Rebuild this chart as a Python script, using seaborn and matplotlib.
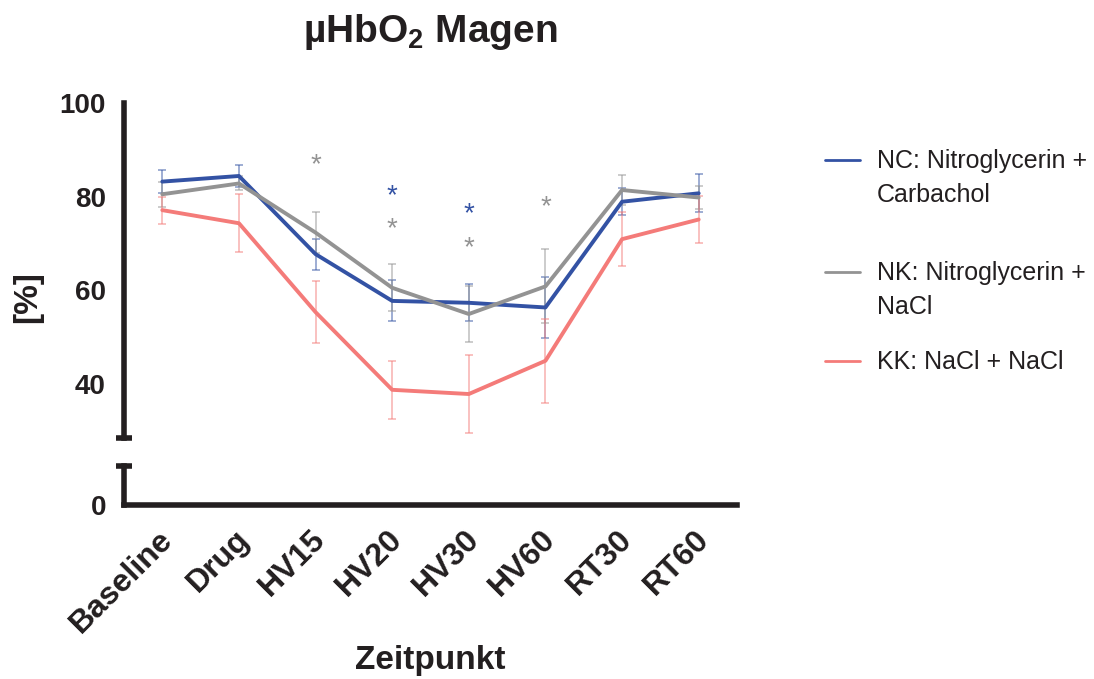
import numpy as np
import pandas as pd
import matplotlib
matplotlib.use("Agg")
import matplotlib.pyplot as plt
import seaborn as sns
from matplotlib.lines import Line2D
from matplotlib.transforms import offset_copy, ScaledTranslation

timepoints = ["Baseline", "Drug", "HV15", "HV20", "HV30", "HV60", "RT30", "RT60"]
groups = ["NC: Nitroglycerin +\nCarbachol", "NK: Nitroglycerin +\nNaCl", "KK: NaCl + NaCl"]

nc_mean = [83.2, 84.4, 67.7, 57.7, 57.3, 56.3, 78.9, 80.7]
nc_err = [2.5, 2.3, 3.3, 4.4, 4.0, 6.6, 2.9, 4.1]
nk_mean = [80.5, 82.8, 72.3, 60.5, 54.9, 60.8, 81.4, 79.8]
nk_err = [2.7, 1.5, 4.4, 5.0, 6.0, 7.9, 3.2, 2.5]
kk_mean = [77.1, 74.3, 55.3, 38.7, 37.8, 44.9, 70.9, 75.1]
kk_err = [2.9, 6.2, 6.6, 6.2, 8.3, 9.0, 5.7, 5.0]

# significance asterisks: (timepoint, y value, group index)
star_time = ["HV15", "HV20", "HV20", "HV30", "HV30", "HV60"]
star_y = [87.5, 81.0, 73.9, 77.1, 69.8, 78.6]
star_group = [1, 0, 1, 0, 1, 1]

colors = ["#3352A4", "#939393", "#F47B79"]
ink = "#231F20"

sns.set_theme(style="white")
plt.rcParams["font.family"] = ["Liberation Sans", "DejaVu Sans"]
plt.rcParams["mathtext.fontset"] = "custom"
plt.rcParams["mathtext.rm"] = "Liberation Sans"
plt.rcParams["mathtext.bf"] = "Liberation Sans:bold"

means = [nc_mean, nk_mean, kk_mean]
errs = [nc_err, nk_err, kk_err]
rows = []
for g, m, e in zip(groups, means, errs):
    for i, t in enumerate(timepoints):
        rows.append({"group": g, "pos": i, "time": t, "value": m[i], "err": e[i]})
df = pd.DataFrame(rows)

W, H = 1094, 679
fig = plt.figure(figsize=(W / 100, H / 100), dpi=100)

left_px, right_px = 124, 737
ax = fig.add_axes([left_px / W, 1 - 438 / H, (right_px - left_px) / W, (438 - 103) / H])
ax2 = fig.add_axes([left_px / W, 1 - 505 / H, (right_px - left_px) / W, (505 - 466) / H])

lw_sp = 4.0
for a in (ax, ax2):
    a.set_xlim(-0.5, 7.5)
    for s in ["top", "right"]:
        a.spines[s].set_visible(False)
    for s in ["left", "bottom"]:
        a.spines[s].set_linewidth(lw_sp)
        a.spines[s].set_color(ink)
    a.tick_params(axis="both", length=8, width=lw_sp, color=ink, direction="out",
                  labelsize=20)
    a.tick_params(axis="y", pad=5)
    a.set_facecolor("none")

ax.spines["bottom"].set_visible(False)
ax.tick_params(axis="x", bottom=False, labelbottom=False)
ax.set_ylim(28.4, 100)
ax.set_yticks([40, 60, 80, 100])

ax2.set_ylim(0, 8.3)
ax2.set_yticks([0])
ax2.set_xticks(range(len(timepoints)))
ax2.set_xticklabels(timepoints, rotation=45, ha="right", rotation_mode="anchor")
ax2.tick_params(axis="x", labelsize=23, pad=6)
for lab in ax2.get_xticklabels():
    lab.set_transform(lab.get_transform() + ScaledTranslation(-5 / 100, 0, fig.dpi_scale_trans))

for a in (ax, ax2):
    for lab in a.get_yticklabels() + a.get_xticklabels():
        lab.set_fontweight("bold")
        lab.set_color(ink)

# break caps
ax.plot([0], [0], transform=ax.transAxes, marker="_", markersize=12, mew=lw_sp,
        color=ink, clip_on=False)
ax2.plot([0], [1], transform=ax2.transAxes, marker="_", markersize=12, mew=lw_sp,
         color=ink, clip_on=False)

# error bars
for gi, g in enumerate(groups):
    sub = df[df["group"] == g]
    ax.errorbar(sub["pos"], sub["value"], yerr=sub["err"], fmt="none",
                ecolor=colors[gi], alpha=0.6, elinewidth=1.1, capsize=3, capthick=1.1,
                zorder=2)

sns.lineplot(data=df, x="pos", y="value", hue="group", palette=colors, ax=ax,
             legend=False, linewidth=2.8, zorder=3, errorbar=None, sort=False)
ax.set_xlabel("")
ax.set_ylabel("")
ax.set_xlim(-0.5, 7.5)

star_tr = offset_copy(ax.transData, fig=fig, x=0, y=-4, units="dots")
for t, y, gi in zip(star_time, star_y, star_group):
    ax.text(timepoints.index(t), y, "*", color=colors[gi], fontsize=20,
            ha="center", va="center", transform=star_tr)

# title, labels
fig.text((left_px + right_px) / 2 / W, 1 - 32 / H, r"µHbO$_\mathbf{2}$ Magen", fontsize=28,
         fontweight="bold", ha="center", va="center", color=ink)
fig.text(28 / W, 1 - 297 / H, "[%]", rotation=90, fontsize=24, fontweight="bold",
         ha="center", va="center", color=ink)
fig.text((left_px + right_px) / 2 / W, 1 - 661 / H, "Zeitpunkt", fontsize=24,
         fontweight="bold", ha="center", va="center", color=ink)

# legend
leg_y = [160, 272, 361]
for gi, g in enumerate(groups):
    y = 1 - leg_y[gi] / H
    fig.add_artist(Line2D([825 / W, 860 / W], [y, y], color=colors[gi], lw=2.0))
    fig.text(877 / W, y + 11 / H, g, fontsize=18, ha="left", va="top", color=ink,
             linespacing=1.5)

fig.savefig("out.png", dpi=100)
